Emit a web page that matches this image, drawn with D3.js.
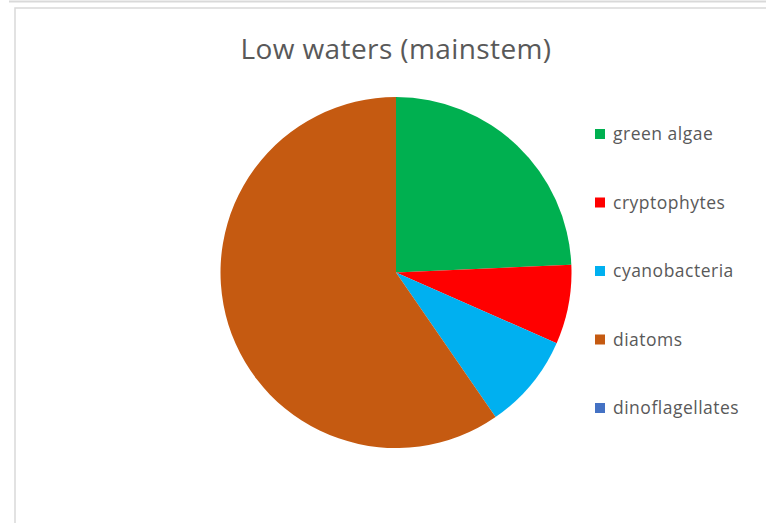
<!DOCTYPE html>
<html>
<head>
<meta charset="utf-8">
<script src="https://cdn.jsdelivr.net/npm/d3@7"></script>
<style>
  html, body { margin: 0; padding: 0; background: #fff; }
  svg { display: block; }
</style>
</head>
<body>
<svg id="chart" width="766" height="523"></svg>
<script>
// Phytoplankton group shares, low waters (mainstem), percent of total
const categories = ["green algae", "cryptophytes", "cyanobacteria", "diatoms", "dinoflagellates"];
const values = [24.3, 7.3, 8.8, 59.6, 0];
const colors = ["#00B050", "#FF0000", "#00B0F0", "#C55A11", "#4472C4"];
const title = "Low waters (mainstem)";

const svg = d3.select("#chart");
const font = "'Open Sans', 'Noto Sans', sans-serif";

// frame lines
svg.append("line")
  .attr("x1", 9).attr("x2", 766).attr("y1", 1.5).attr("y2", 1.5)
  .attr("stroke", "#d9d9d9").attr("stroke-width", 2);
svg.append("rect")
  .attr("x", 15).attr("y", 8).attr("width", 800).attr("height", 600)
  .attr("fill", "#fff").attr("stroke", "#d9d9d9").attr("stroke-width", 1.5);

// title
svg.append("text")
  .attr("x", 396).attr("y", 59)
  .attr("text-anchor", "middle")
  .attr("font-family", font)
  .attr("font-size", 28)
  .attr("letter-spacing", 0.4)
  .attr("fill", "#595959")
  .text(title);

// pie
const cx = 396, cy = 272.5, r = 175.5;
const data = categories.map((c, i) => ({ name: c, value: values[i], color: colors[i] }));
const pie = d3.pie().sort(null).value(d => d.value);
const arc = d3.arc().innerRadius(0).outerRadius(r);

svg.append("g")
  .attr("transform", `translate(${cx},${cy})`)
  .selectAll("path")
  .data(pie(data))
  .join("path")
  .attr("d", arc)
  .attr("fill", d => d.data.color);

// legend
const legendY = d3.scalePoint().domain(categories).range([134, 408]);
const lg = svg.append("g");
const item = lg.selectAll("g").data(data).join("g")
  .attr("transform", d => `translate(595,${legendY(d.name)})`);
item.append("rect")
  .attr("x", 0).attr("y", -5).attr("width", 10).attr("height", 10)
  .attr("fill", d => d.color);
item.append("text")
  .attr("x", 18).attr("y", 0)
  .attr("dy", "0.35em")
  .attr("font-family", font)
  .attr("font-size", 17.5)
  .attr("letter-spacing", 0.5)
  .attr("fill", "#595959")
  .text(d => d.name);
</script>
</body>
</html>
